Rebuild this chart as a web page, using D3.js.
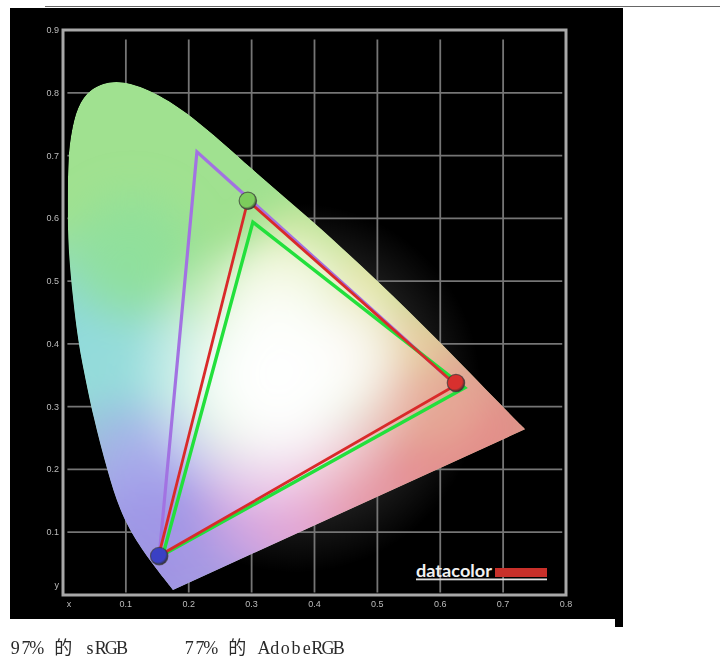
<!DOCTYPE html>
<html><head><meta charset="utf-8">
<script src="https://cdn.jsdelivr.net/npm/d3@7"></script>
<style>html,body{margin:0;padding:0;background:#fff}svg{display:block}</style>
</head><body><svg id="c" width="720" height="667"></svg>
<script>
const xTicks=[0.1,0.2,0.3,0.4,0.5,0.6,0.7];
const yTicks=[0.1,0.2,0.3,0.4,0.5,0.6,0.7,0.8];
const xLabels=["x","0.1","0.2","0.3","0.4","0.5","0.6","0.7","0.8"];
const yLabels=["y","0.1","0.2","0.3","0.4","0.5","0.6","0.7","0.8","0.9"];
const locus=[[.175,.008],[.175,.008],[.099,.104],[.07,.199],[.048,.284],[.032,.363],[.024,.406],[.016,.47],[.008,.554],[.0075,.618],[.008,.698],[.013,.736],[.022,.777],[.043,.808],[.083,.822],[.134,.808],[.202,.768],[.302,.677],[.396,.597],[.499,.502],[.6,.403],[.7,.299],[.735,.264],[.735,.264]];
const blobs=[
 [.02,.40,.20,"#8cd8de"],
 [.12,.34,.17,"#96dcdc"],
 [.11,.54,.13,"#8fe09c"],
 [.10,.18,.16,"#a0aeea"],
 [.18,.16,.16,"#aeb0ee"],
 [.16,.03,.22,"#9c90e6"],
 [.30,.06,.18,"#a898e4"],
 [.36,.16,.17,"#e2aae0"],
 [.46,.13,.17,"#e6a4d0"],
 [.56,.20,.20,"#e6949c"],
 [.68,.27,.20,"#e58a88"],
 [.58,.33,.13,"#e6ac98"],
 [.48,.49,.12,"#e4e09c"],
 [.56,.41,.08,"#e6cc9c"],
 [.38,.55,.10,"#d4e8a4"],
 [.34,.48,.11,"#eef4d0"],
 [.45,.38,.10,"#f6ead8"],
 [.34,.35,.24,"#ffffff"],
 [.34,.35,.13,"#ffffff"]
];
const adobe=[[.153,.062],[.213,.706],[.612,.346]];
const measured=[[.294,.628],[.625,.3345],[.152,.062]];
const srgb=[[.302,.594],[.639,.33],[.159,.064]];
const markers=[[.294,.628,"#7ccc5c"],[.625,.3377,"#d8302e"],[.153,.062,"#3a40c4"]];
const caption=[["97% 的 sRGB",10],["77% 的 AdobeRGB",184]];

const x=d3.scaleLinear([0,.8],[63,566]);
const y=d3.scaleLinear([0,.9],[595,30]);
const svg=d3.select("#c");
const defs=svg.append("defs");
const tri=d3.line(d=>x(d[0]),d=>y(d[1])).curve(d3.curveLinearClosed);
const open=d3.line(d=>x(d[0]),d=>y(d[1]));
const locusPath=d3.line(d=>x(d[0]),d=>y(d[1])).curve(d3.curveBasis)(locus)+"Z";

defs.append("clipPath").attr("id","gamut").append("path").attr("d",locusPath);
defs.append("filter").attr("id","soft").append("feGaussianBlur").attr("stdDeviation",.45);
defs.append("filter").attr("id","soft2").append("feGaussianBlur").attr("stdDeviation",.3);
defs.append("filter").attr("id","wash").attr("filterUnits","userSpaceOnUse").attr("x",0).attr("y",0).attr("width",720).attr("height",667)
  .append("feGaussianBlur").attr("stdDeviation",14);
const glow=defs.append("radialGradient").attr("id","glow");
glow.append("stop").attr("offset",.5).attr("stop-color","#fff").attr("stop-opacity",.3);
glow.append("stop").attr("offset",.72).attr("stop-color","#fff").attr("stop-opacity",.1);
glow.append("stop").attr("offset",1).attr("stop-color","#fff").attr("stop-opacity",0);
blobs.forEach((b,i)=>{
  const g=defs.append("radialGradient").attr("id","b"+i);
  g.append("stop").attr("offset",0).attr("stop-color",b[3]).attr("stop-opacity",1);
  g.append("stop").attr("offset",.5).attr("stop-color",b[3]).attr("stop-opacity",.75);
  g.append("stop").attr("offset",1).attr("stop-color",b[3]).attr("stop-opacity",0);
});
markers.forEach((m,i)=>{
  const g=defs.append("radialGradient").attr("id","m"+i).attr("cx",.42).attr("cy",.4).attr("r",.62);
  g.append("stop").attr("offset",0).attr("stop-color",m[2]);
  g.append("stop").attr("offset",.7).attr("stop-color",m[2]);
  g.append("stop").attr("offset",1).attr("stop-color","#333");
});

// panel
svg.append("rect").attr("x",10).attr("y",8).attr("width",613).attr("height",611).attr("fill","#000");
svg.append("rect").attr("x",615).attr("y",619).attr("width",8).attr("height",8).attr("fill","#000");
svg.append("line").attr("x1",45).attr("x2",720).attr("y1",6.5).attr("y2",6.5).attr("stroke","#666");

// glow
svg.append("circle").attr("cx",x(.37)).attr("cy",y(.33)).attr("r",185).attr("fill","url(#glow)");

// grid
const grid=svg.append("g").attr("filter","url(#soft)").attr("stroke","#747474").attr("stroke-width",1.8);
grid.selectAll(".v").data(xTicks).join("line").attr("x1",d=>x(d)).attr("x2",d=>x(d)).attr("y1",y(.885)).attr("y2",y(.004));
grid.selectAll(".h").data(yTicks).join("line").attr("x1",x(.007)).attr("x2",x(.794)).attr("y1",d=>y(d)).attr("y2",d=>y(d));

// gamut
const gam=svg.append("g").attr("clip-path","url(#gamut)");
gam.append("path").attr("d",locusPath).attr("fill","#a0e190");
gam.append("g").attr("filter","url(#wash)").selectAll("ellipse").data(blobs).join("ellipse")
  .attr("cx",d=>x(d[0])).attr("cy",d=>y(d[1]))
  .attr("rx",d=>x(d[2])-x(0)).attr("ry",d=>x(d[2])-x(0))
  .attr("fill",(d,i)=>`url(#b${i})`);

// frame
svg.append("rect").attr("x",x(0)).attr("y",y(.9)).attr("width",x(.8)-x(0)).attr("height",y(0)-y(.9))
  .attr("fill","none").attr("stroke","#a8a8a8").attr("stroke-width",3).attr("filter","url(#soft2)");

// triangles
const tris=svg.append("g").attr("fill","none").attr("stroke-linejoin","miter");
tris.append("path").attr("d",open(adobe)).attr("stroke","#a272e2").attr("stroke-width",3.2);
tris.append("path").attr("d",tri(srgb)).attr("stroke","#22e03c").attr("stroke-width",3.4);
tris.append("path").attr("d",tri(measured)).attr("stroke","#d92a2a").attr("stroke-width",2.8);

// markers
svg.append("g").selectAll("circle").data(markers).join("circle")
  .attr("cx",d=>x(d[0])).attr("cy",d=>y(d[1])).attr("r",8.7)
  .attr("fill",(d,i)=>`url(#m${i})`).attr("stroke","#3a3a3a").attr("stroke-opacity",.7).attr("stroke-width",1.2);

// tick labels
const lab=svg.append("g").attr("fill","#bcbcbc").attr("font-family","Liberation Sans").attr("font-size",9).attr("filter","url(#soft2)");
lab.selectAll(".xl").data(xLabels).join("text").attr("text-anchor","middle")
  .attr("x",(d,i)=>i==0?x(0)+6:x(i/10)).attr("y",607).text(d=>d);
lab.selectAll(".yl").data(yLabels).join("text").attr("text-anchor","end")
  .attr("x",59).attr("y",(d,i)=>i==0?y(.012)+1:y(i/10)+3).text(d=>d);

// logo
svg.append("text").attr("x",416).attr("y",577).attr("font-family","Lato").attr("font-weight",700).attr("font-size",17)
  .attr("textLength",76).attr("lengthAdjust","spacingAndGlyphs").attr("fill","#f2f2f2").text("datacolor");
svg.append("rect").attr("x",495).attr("y",568).attr("width",52).attr("height",9).attr("fill","#c8302a");
svg.append("rect").attr("x",416).attr("y",578.5).attr("width",131).attr("height",1.8).attr("fill","#e0e0e0");

// caption: fixed half-width cells, as in the original
const cell=10.67;
svg.append("g").attr("fill","#2a2a2a").attr("font-family","'Liberation Serif','Noto Sans CJK SC'").attr("font-size",18).attr("filter","url(#soft2)")
 .selectAll("text").data(caption).join("text").attr("y",654).text(d=>d[0])
 .each(function(d){
   const chars=Array.from(d[0]);let c=0;
   const xs=chars.map((ch,i)=>{
     const w=this.getSubStringLength(i,1), cells=ch==="的"?2:1;
     const pos=d[1]+(c+cells/2)*cell-w/2; c+=cells; return pos;
   });
   d3.select(this).attr("x",xs.join(" "));
 });
</script></body></html>
